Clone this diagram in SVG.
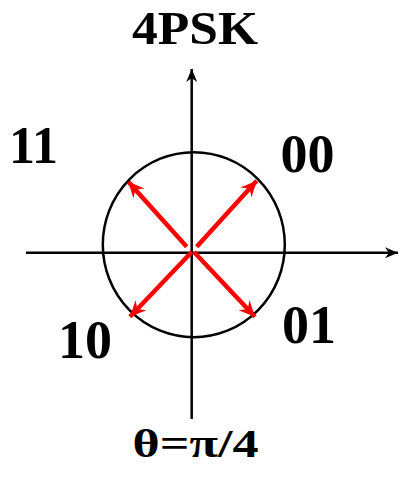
<svg xmlns="http://www.w3.org/2000/svg" width="400" height="477" viewBox="0 0 400 477">
<defs>
<style>
.lbl{font-family:"Liberation Serif","Times New Roman",serif;font-weight:bold;fill:#000;text-anchor:middle}
.axis{stroke:#000;stroke-width:2.5;fill:none}
.vec{stroke:#ff0000;stroke-width:4.5;fill:none}
</style>
<marker id="ah" markerUnits="userSpaceOnUse" markerWidth="16" markerHeight="12" viewBox="-14 -6 16 12" refX="0" refY="0" orient="auto">
<path d="M0,0 L-13,-5.5 L-9,0 L-13,5.5 Z" fill="#000"/>
</marker>
<marker id="rh" markerUnits="userSpaceOnUse" markerWidth="18" markerHeight="16" viewBox="-17 -8 18 16" refX="0" refY="0" orient="auto">
<path d="M0,0 L-16,-7.5 L-10.5,0 L-16,7.5 Z" fill="#ff0000"/>
</marker>
</defs>
<g id="axes">
<line class="axis" x1="26" y1="252.7" x2="398" y2="252.7" marker-end="url(#ah)"/>
<line class="axis" x1="191.7" y1="419" x2="191.7" y2="69" marker-end="url(#ah)"/>
</g>
<g id="circle">
<ellipse cx="193.8" cy="244.7" rx="91" ry="92.5" stroke="#000" stroke-width="2.5" fill="none"/>
</g>
<g id="vectors">
<line class="vec" x1="186.7" y1="246.7" x2="128.3" y2="181.7" marker-end="url(#rh)"/>
<line class="vec" x1="196.7" y1="246.7" x2="256.7" y2="180.7" marker-end="url(#rh)"/>
<line class="vec" x1="191.7" y1="252" x2="130" y2="316.7" marker-end="url(#rh)"/>
<line class="vec" x1="194" y1="252" x2="255" y2="316.7" marker-end="url(#rh)"/>
</g>
<g id="title"><text class="lbl" x="195" y="44" font-size="46" textLength="126" lengthAdjust="spacingAndGlyphs">4PSK</text></g>
<g id="label-11"><text class="lbl" x="33.5" y="163" font-size="52">11</text></g>
<g id="label-00"><text class="lbl" x="307.5" y="171.5" font-size="54">00</text></g>
<g id="label-10"><text class="lbl" x="85" y="358" font-size="54">10</text></g>
<g id="label-01"><text class="lbl" x="309" y="343" font-size="54">01</text></g>
<g id="caption"><text class="lbl" x="195.5" y="457" font-size="40" textLength="126" lengthAdjust="spacingAndGlyphs">θ=π/4</text></g>
</svg>
